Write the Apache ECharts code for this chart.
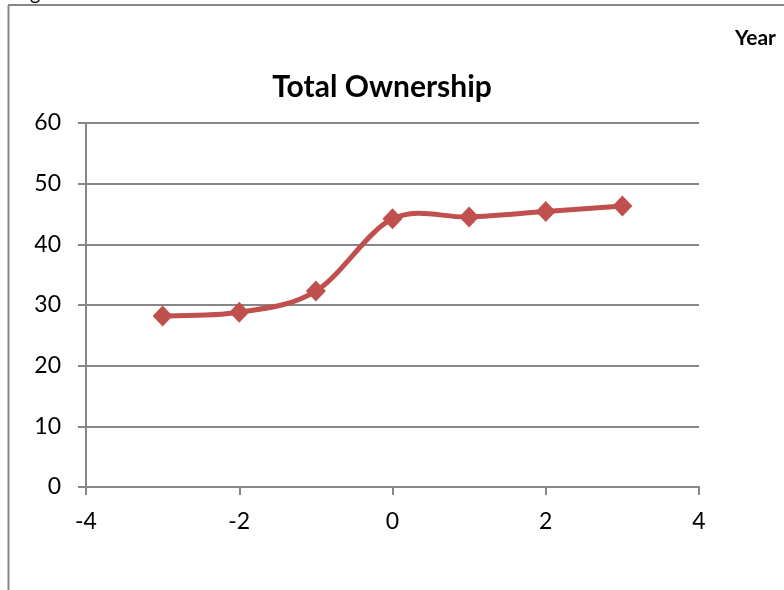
<!DOCTYPE html>
<html>
<head>
<meta charset="utf-8">
<script src="https://cdn.jsdelivr.net/npm/echarts@6/dist/echarts.min.js"></script>
<style>
  html, body { margin: 0; padding: 0; background: #fff; }
  #chart { width: 784px; height: 590px; }
</style>
</head>
<body>
<div id="chart"></div>
<script>
// Relative year vs. total ownership
const years = [-3, -2, -1, 0, 1, 2, 3];
const ownership = [28.2, 28.8, 32.3, 44.2, 44.5, 45.4, 46.3];
const xTicks = [-4, -2, 0, 2, 4];
const yTicks = [0, 10, 20, 30, 40, 50, 60];

const font = 'Lato, "Open Sans", sans-serif';
const gray = '#878787';
const red = '#C0504D';

const points = years.map((y, i) => [y, ownership[i]]);

// Smoothed curve: one cubic Bezier segment per interval, Catmull-Rom style
// control points (tension 1/6) computed in pixel space from neighbouring points.
function renderSegment(params, api) {
  const i = params.dataIndex;
  if (i >= points.length - 1) return null;
  const p = k => api.coord(points[Math.max(0, Math.min(points.length - 1, k))]);
  const p0 = p(i - 1), p1 = p(i), p2 = p(i + 1), p3 = p(i + 2);
  return {
    type: 'bezierCurve',
    shape: {
      x1: p1[0], y1: p1[1],
      cpx1: p1[0] + (p2[0] - p0[0]) / 6, cpy1: p1[1] + (p2[1] - p0[1]) / 6,
      cpx2: p2[0] - (p3[0] - p1[0]) / 6, cpy2: p2[1] - (p3[1] - p1[1]) / 6,
      x2: p2[0], y2: p2[1]
    },
    style: { stroke: red, lineWidth: 5, fill: null, lineCap: 'round' }
  };
}

const chart = echarts.init(document.getElementById('chart'), null, { renderer: 'canvas' });
chart.setOption({
  animation: false,
  backgroundColor: '#fff',
  title: {
    text: 'Total Ownership',
    left: 377,
    textAlign: 'center',
    top: 67,
    textStyle: { fontFamily: font, fontWeight: 'bold', fontSize: 30, color: '#000' }
  },
  grid: { left: 86, right: 85, top: 123, bottom: 103 },
  xAxis: {
    type: 'value',
    min: xTicks[0],
    max: xTicks[xTicks.length - 1],
    interval: 2,
    axisLine: { show: true, onZero: false, lineStyle: { color: gray, width: 2 } },
    axisTick: { show: true, length: 8, lineStyle: { color: gray, width: 2 } },
    splitLine: { show: false },
    axisLabel: { margin: 23, fontFamily: font, fontSize: 23, color: '#000' }
  },
  yAxis: {
    type: 'value',
    min: yTicks[0],
    max: yTicks[yTicks.length - 1],
    interval: 10,
    axisLine: { show: true, onZero: false, lineStyle: { color: gray, width: 2 } },
    axisTick: { show: true, length: 8, lineStyle: { color: gray, width: 2 } },
    splitLine: { show: true, lineStyle: { color: gray, width: 2 } },
    axisLabel: { margin: 25, fontFamily: font, fontSize: 23, color: '#000' }
  },
  series: [
    {
      type: 'custom',
      data: points,
      renderItem: renderSegment,
      silent: true,
      z: 4
    },
    {
      type: 'scatter',
      data: points,
      symbol: 'diamond',
      symbolSize: [20, 21],
      itemStyle: { color: red, opacity: 1 },
      z: 5
    }
  ],
  graphic: [
    { type: 'line', shape: { x1: 8.5, y1: 5, x2: 8.5, y2: 590 }, style: { stroke: gray, lineWidth: 2 } },
    { type: 'line', shape: { x1: 8, y1: 5, x2: 784, y2: 5 }, style: { stroke: gray, lineWidth: 2 } },
    { type: 'text', left: 30, top: -16, style: { text: 'g', font: '20px ' + font, fill: '#000' } },
    { type: 'text', left: 735, top: 28, style: { text: 'Year', font: 'bold 21px ' + font, fill: '#000' } }
  ]
});
</script>
</body>
</html>
